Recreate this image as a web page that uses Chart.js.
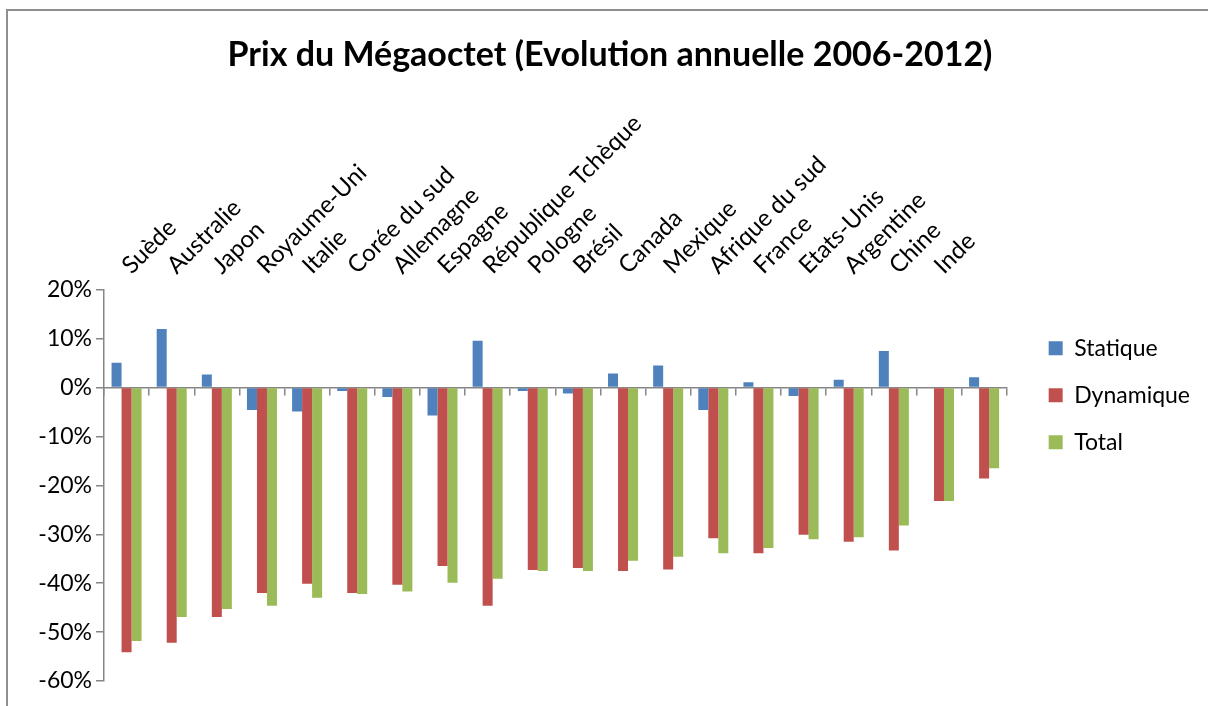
<!DOCTYPE html>
<html>
<head>
<meta charset="utf-8">
<script src="https://cdn.jsdelivr.net/npm/chart.js@4/dist/chart.umd.min.js"></script>
<style>
  body { margin: 0; background: #fff; }
  #wrap { width: 1208px; height: 706px; }
</style>
</head>
<body>
<div id="wrap"><canvas id="chart" width="1208" height="706"></canvas></div>
<script>
// pays (le dernier groupe n'a pas d'étiquette sur l'original)
const countries = ['Suède', 'Australie', 'Japon', 'Royaume-Uni', 'Italie', 'Corée du sud', 'Allemagne',
    'Espagne', 'République Tchèque', 'Pologne', 'Brésil', 'Canada', 'Mexique', 'Afrique du sud',
    'France', 'Etats-Unis', 'Argentine', 'Chine', 'Inde', ''];

// évolution annuelle en %
const statique = [5.1, 12.0, 2.7, -4.6, -4.9, -0.7, -1.9, -5.7, 9.6, -0.7, -1.2, 2.9, 4.5, -4.6, 1.1, -1.7, 1.6, 7.5, 0, 2.1];
const dynamique = [-54.1, -52.2, -46.9, -42.0, -40.1, -42.0, -40.3, -36.5, -44.6, -37.3, -36.9, -37.5, -37.2, -30.8, -33.9, -30.1, -31.5, -33.3, -23.2, -18.6];
const total = [-51.8, -46.9, -45.3, -44.6, -43.0, -42.2, -41.7, -39.9, -39.1, -37.5, -37.5, -35.4, -34.6, -33.9, -32.8, -31.0, -30.6, -28.2, -23.2, -16.5];

const yMin = -60, yMax = 20, yStep = 10;

const FONT = 'Lato, "Open Sans", sans-serif';
const AXIS_GREY = '#868686';

// fond blanc + cadre gris (haut et gauche)
const frame = {
    id: 'frame',
    beforeDraw(chart) {
        const ctx = chart.ctx;
        ctx.save();
        ctx.fillStyle = '#fff';
        ctx.fillRect(0, 0, chart.width, chart.height);
        ctx.strokeStyle = '#8f8f8f';
        ctx.lineWidth = 2;
        ctx.beginPath();
        ctx.moveTo(7, chart.height);
        ctx.lineTo(7, 10);
        ctx.lineTo(chart.width, 10);
        ctx.stroke();
        ctx.restore();
    }
};

new Chart(document.getElementById('chart'), {
    type: 'bar',
    data: {
        labels: countries,
        datasets: [
            { label: 'Statique', data: statique, backgroundColor: '#4F81BD' },
            { label: 'Dynamique', data: dynamique, backgroundColor: '#C0504D' },
            { label: 'Total', data: total, backgroundColor: '#9BBB59' }
        ]
    },
    options: {
        responsive: false,
        devicePixelRatio: 1,
        animation: false,
        datasets: {
            bar: { categoryPercentage: 0.665, barPercentage: 1.0 }
        },
        layout: { padding: { top: 35, left: 20, right: 8, bottom: 25 } },
        scales: {
            x: {
                position: 'top',
                grid: { display: false },
                border: { display: false },
                ticks: {
                    autoSkip: false,
                    minRotation: 45,
                    maxRotation: 45,
                    padding: 2,
                    labelOffset: 20,
                    color: '#000',
                    font: { family: FONT, size: 24 }
                },
                afterFit(s) { s.height = 214; }
            },
            x2: {
                type: 'category',
                position: { y: 0 },
                offset: true,
                grid: { offset: true, drawOnChartArea: false, tickLength: 7, color: AXIS_GREY, lineWidth: 1.5 },
                border: { color: AXIS_GREY, width: 1.5 },
                ticks: { display: false }
            },
            y: {
                min: yMin,
                max: yMax,
                grid: { drawOnChartArea: false, tickLength: 8, color: AXIS_GREY, lineWidth: 1.5 },
                border: { color: AXIS_GREY, width: 1.5 },
                ticks: {
                    stepSize: yStep,
                    padding: 4,
                    color: '#000',
                    font: { family: FONT, size: 23 },
                    callback: v => v + '%'
                },
                afterFit(s) { s.width = 84; }
            },
            // espace vide entre la zone de tracé et la légende
            spacer: {
                type: 'linear',
                position: 'right',
                grid: { display: false },
                border: { display: false },
                ticks: { display: false },
                afterFit(s) { s.width = 18; }
            }
        },
        plugins: {
            title: {
                display: true,
                text: 'Prix du Mégaoctet (Evolution annuelle 2006-2012)',
                color: '#000',
                font: { family: FONT, size: 34, weight: 'bold', lineHeight: 1.2 },
                padding: { top: 0, bottom: 0 }
            },
            legend: {
                position: 'right',
                align: 'center',
                maxWidth: 183,
                title: { display: true, text: ' ', padding: { top: 0, bottom: 60 } },
                labels: {
                    boxWidth: 14,
                    boxHeight: 14,
                    padding: 24,
                    color: '#000',
                    font: { family: FONT, size: 23 }
                }
            },
            tooltip: { enabled: false }
        }
    },
    plugins: [frame]
});
</script>
</body>
</html>
